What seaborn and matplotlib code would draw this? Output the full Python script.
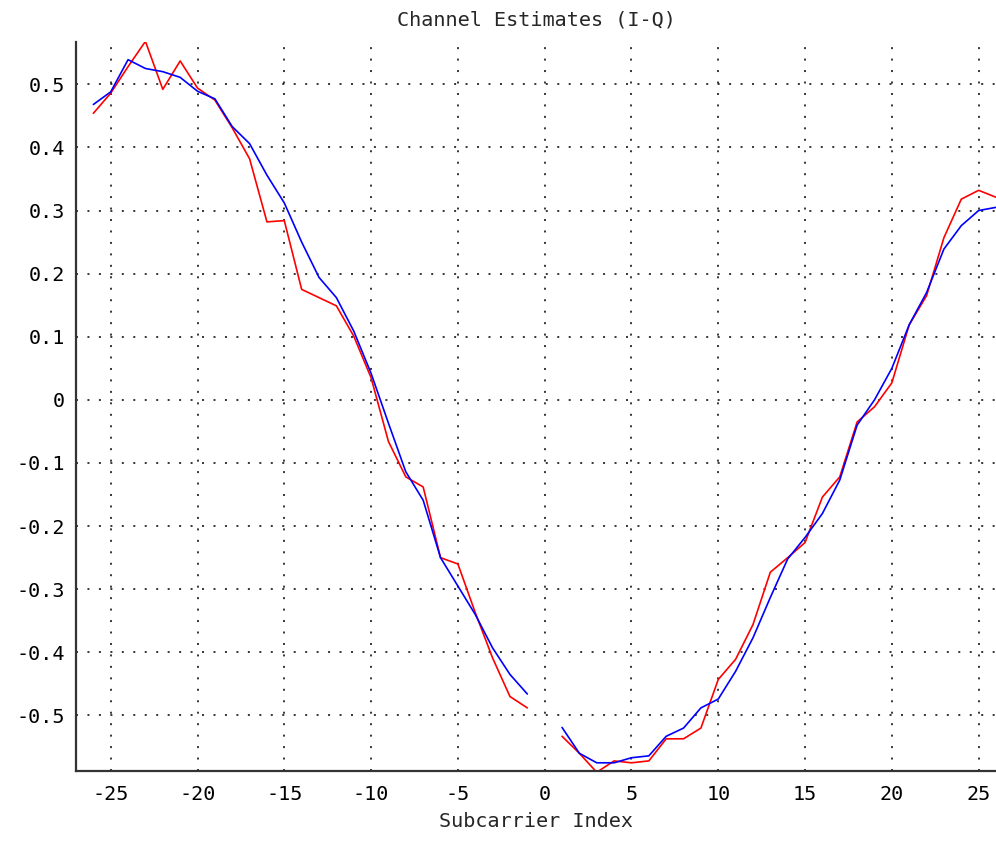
import numpy as np
import pandas as pd
import matplotlib
matplotlib.use("Agg")
import matplotlib.pyplot as plt
import seaborn as sns

# Subcarrier indices (DC carrier 0 is unused)
subcarriers_lower = list(range(-26, 0))
subcarriers_upper = list(range(1, 27))

# Raw channel estimate (red) and smoothed estimate (blue)
raw_lower = [0.454, 0.486, 0.528, 0.568, 0.492, 0.537, 0.494, 0.475, 0.431, 0.382,
             0.282, 0.284, 0.175, 0.162, 0.149, 0.101, 0.035, -0.066, -0.122, -0.138,
             -0.250, -0.260, -0.337, -0.409, -0.470, -0.488]
raw_upper = [-0.533, -0.560, -0.590, -0.572, -0.575, -0.572, -0.537, -0.537, -0.520, -0.443,
             -0.411, -0.356, -0.273, -0.250, -0.226, -0.154, -0.122, -0.035, -0.011, 0.027,
             0.119, 0.165, 0.257, 0.318, 0.332, 0.321]
smooth_lower = [0.468, 0.488, 0.539, 0.525, 0.520, 0.511, 0.489, 0.477, 0.433, 0.406,
                0.356, 0.312, 0.250, 0.194, 0.162, 0.109, 0.042, -0.037, -0.114, -0.159,
                -0.250, -0.295, -0.340, -0.393, -0.435, -0.466]
smooth_upper = [-0.519, -0.560, -0.575, -0.575, -0.567, -0.564, -0.533, -0.520, -0.488, -0.474,
                -0.430, -0.377, -0.313, -0.252, -0.218, -0.180, -0.127, -0.040, 0.000, 0.050,
                0.119, 0.170, 0.239, 0.276, 0.300, 0.305]

x_ticks = [-25, -20, -15, -10, -5, 0, 5, 10, 15, 20, 25]
y_ticks = [-0.5, -0.4, -0.3, -0.2, -0.1, 0, 0.1, 0.2, 0.3, 0.4, 0.5]
y_tick_labels = ["-0.5", "-0.4", "-0.3", "-0.2", "-0.1", "0", "0.1", "0.2", "0.3", "0.4", "0.5"]

frames = []
for name, lo, hi in [("raw", raw_lower, raw_upper), ("smooth", smooth_lower, smooth_upper)]:
    frames.append(pd.DataFrame({"k": subcarriers_lower, "v": lo, "series": name, "band": "lower"}))
    frames.append(pd.DataFrame({"k": subcarriers_upper, "v": hi, "series": name, "band": "upper"}))
df = pd.concat(frames, ignore_index=True)

sns.set_style("white")
plt.rcParams["font.family"] = ["DejaVu Sans Mono", "DejaVu Sans"]
plt.rcParams["axes.unicode_minus"] = False

fig = plt.figure(figsize=(9.96, 8.42), dpi=100)
ax = fig.add_axes([76 / 996, (842 - 771) / 842, (996 - 76) / 996, (771 - 42) / 842])

sns.lineplot(data=df, x="k", y="v", hue="series", units="band", estimator=None,
             palette={"raw": "#ff0000", "smooth": "#0000ff"}, linewidth=1.2,
             legend=False, ax=ax, sort=True)

ax.set_xlim(-27, 26)
ax.set_ylim(-0.588, 0.567)
ax.set_xticks(x_ticks)
ax.set_xticklabels([str(t) for t in x_ticks])
ax.set_yticks(y_ticks)
ax.set_yticklabels(y_tick_labels)

ax.grid(True, color="black", linestyle=(0, (1.3, 6.2)), linewidth=1.1)
ax.set_axisbelow(True)

for side in ["top", "right"]:
    ax.spines[side].set_visible(False)
for side in ["left", "bottom"]:
    ax.spines[side].set_color("#333333")
    ax.spines[side].set_linewidth(1.6)

ax.tick_params(axis="both", direction="in", length=7, width=1.5, color="#333333",
               labelsize=14.5, labelcolor="black")
ax.tick_params(axis="x", pad=10)
ax.tick_params(axis="y", pad=8)

ax.set_title("Channel Estimates (I-Q)", fontsize=14.5, pad=12)
ax.set_xlabel("Subcarrier Index", fontsize=14.5, labelpad=6)
ax.set_ylabel("")

fig.savefig("out.png", dpi=100)
